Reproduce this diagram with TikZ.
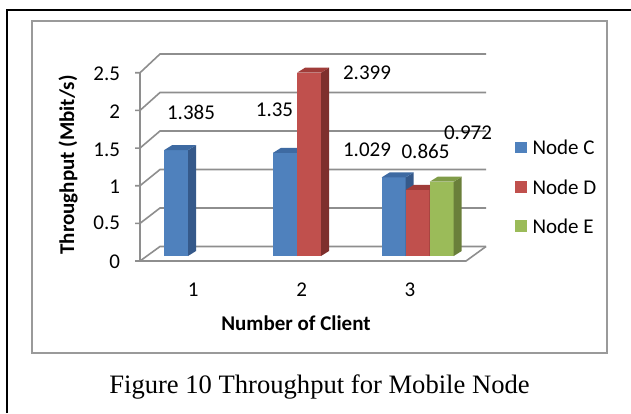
\documentclass[tikz,border=0pt]{standalone}
\usepackage{fontspec}
\setmainfont{Carlito}
\newfontfamily\capfont{Liberation Serif}
\definecolor{gridgray}{HTML}{8E8E8E}
\definecolor{boxgray}{HTML}{9A9A9A}
\definecolor{cFront}{HTML}{4F81BD}
\definecolor{cSide}{HTML}{35598A}
\definecolor{cTop}{HTML}{3E6AA2}
\definecolor{dFront}{HTML}{C0504D}
\definecolor{dSide}{HTML}{7E2F2D}
\definecolor{dTop}{HTML}{A03C39}
\definecolor{eFront}{HTML}{9BBB59}
\definecolor{eSide}{HTML}{6A7F3A}
\definecolor{eTop}{HTML}{809C48}
% one 3-D column: left x, value, front, side and top colours
\newcommand\cubebar[5]{%
  \pgfmathsetmacro\ytop{256-76.4*#2}
  \fill[#3] (#1,256) rectangle (#1+24,\ytop);
  \fill[#4] (#1+24,256) -- (#1+32,251) -- (#1+32,\ytop-5) -- (#1+24,\ytop) -- cycle;
  \fill[#5] (#1,\ytop) -- (#1+8,\ytop-5) -- (#1+32,\ytop-5) -- (#1+24,\ytop) -- cycle;
}
\begin{document}
\begin{tikzpicture}[x=1pt,y=-1pt,
  every node/.style={inner sep=0pt, outer sep=0pt},
  lbl/.style={font=\fontsize{21}{25}\selectfont},
  bold lbl/.style={font=\fontsize{21}{25}\selectfont\bfseries},
  grid line/.style={draw=gridgray, line width=1.6pt},
  swatch/.style={minimum size=11.7pt}]
\useasboundingbox (0,0) rectangle (631,413);
\fill[white] (0,0) rectangle (631,413);

% page frame and chart area
\draw[black, line width=2pt] (7.3,413) -- (7.3,10) -- (631,10);
\draw[boxgray, line width=2pt] (32,20.7) rectangle (607,353);

% back wall gridlines, side diagonals and ticks
\foreach \v in {0,0.5,...,2.5} {
  \pgfmathsetmacro\yf{261-75.3*\v}
  \pgfmathsetmacro\yb{246.5-77*\v}
  \draw[grid line] (135,\yf) -- (140,\yf) -- (160,\yb) -- (486,\yb);
}
\draw[grid line] (140,261) -- (140,72.75);
\draw[grid line] (140,261) -- (466,261) -- (486,246.5);

% y tick labels
\node[lbl, anchor=east] (y0)  at (120,261.5) {0};
\node[lbl, anchor=east] (y05) at (120,223)   {0.5};
\node[lbl, anchor=east] (y1)  at (120,187)   {1};
\node[lbl, anchor=east] (y15) at (120,149.5) {1.5};
\node[lbl, anchor=east] (y2)  at (120,111.5) {2};
\node[lbl, anchor=east] (y25) at (120,74)    {2.5};

% columns
\cubebar{164}{1.385}{cFront}{cSide}{cTop}
\cubebar{273}{1.35}{cFront}{cSide}{cTop}
\cubebar{297}{2.399}{dFront}{dSide}{dTop}
\cubebar{381.7}{1.029}{cFront}{cSide}{cTop}
\cubebar{405.7}{0.865}{dFront}{dSide}{dTop}
\cubebar{429.7}{0.972}{eFront}{eSide}{eTop}

% value labels
\node[lbl] (v1c) at (191,112.7) {1.385};
\node[lbl] (v2c) at (274.5,110) {1.35};
\node[lbl] (v2d) at (367,73)    {2.399};
\node[lbl] (v3c) at (367,150)   {1.029};
\node[lbl] (v3d) at (425.5,151.7) {0.865};
\node[lbl] (v3e) at (468,133)   {0.972};

% category labels and axis titles
\node[lbl] (c1) at (193.3,289.3) {1};
\node[lbl] (c2) at (301.7,289.3) {2};
\node[lbl] (c3) at (410,289.3)   {3};
\node[bold lbl] (xt) at (296,323) {Number of Client};
\node[bold lbl, rotate=90] (yt) at (68,165) {Throughput (Mbit/s)};

% legend
\node[swatch, fill=cFront] (kc) at (520.8,147.5) {};
\node[swatch, fill=dFront] (kd) at (520.8,187.2) {};
\node[swatch, fill=eFront] (ke) at (520.8,226)   {};
\node[lbl, anchor=west] (lc) at (532.5,147.5) {Node C};
\node[lbl, anchor=west] (ld) at (532.5,187.2) {Node D};
\node[lbl, anchor=west] (le) at (532.5,226)   {Node E};

% caption
\node[font=\capfont\fontsize{26.6}{30}\selectfont, anchor=base] (cap) at (319.5,393) {Figure 10 Throughput for Mobile Node};
\end{tikzpicture}
\end{document}
